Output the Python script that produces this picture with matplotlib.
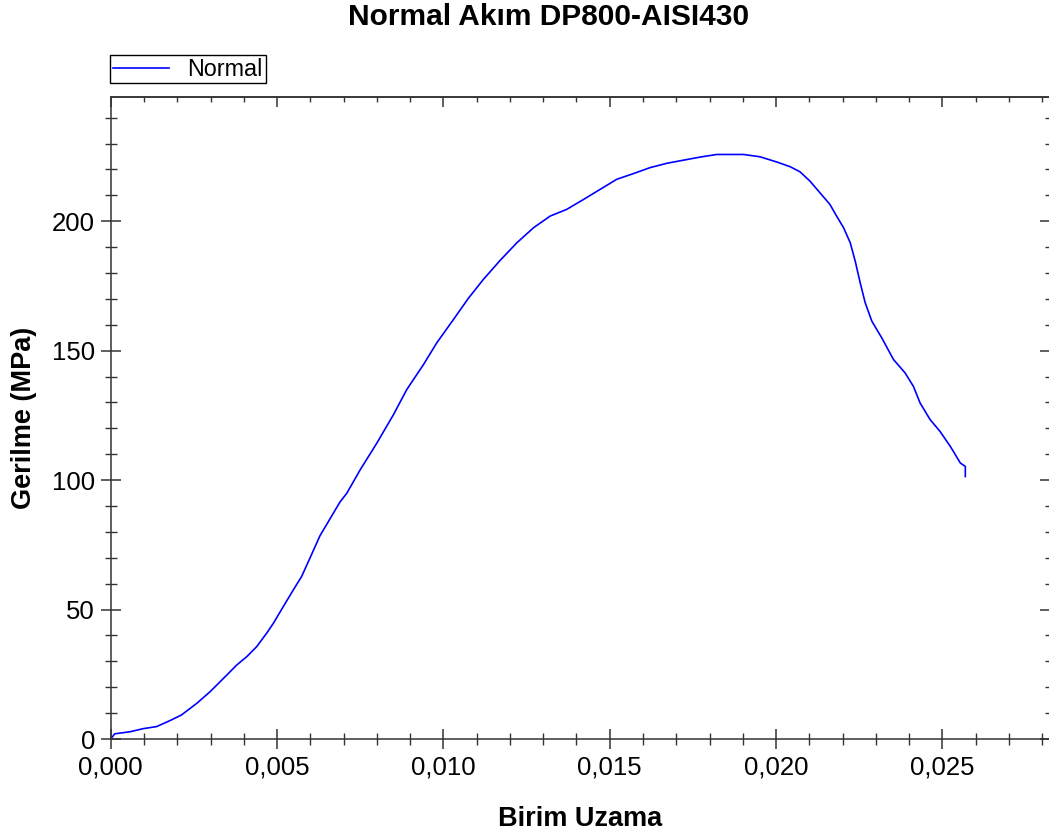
import numpy as np
import matplotlib.pyplot as plt
from matplotlib.ticker import MultipleLocator, FuncFormatter

# === Data ===
strain = [0.0, 0.00012, 0.00058, 0.00098, 0.00138, 0.00178, 0.00213, 0.00259,
          0.00299, 0.00349, 0.00379, 0.00409, 0.00439, 0.00469, 0.00489, 0.00519,
          0.00549, 0.00574, 0.00599, 0.00629, 0.00659, 0.00689, 0.00710, 0.00750,
          0.00800, 0.00850, 0.00890, 0.00940, 0.00980, 0.01030, 0.01075, 0.01120,
          0.01170, 0.01221, 0.01271, 0.01321, 0.01371, 0.01421, 0.01471, 0.01521,
          0.01571, 0.01621, 0.01672, 0.01722, 0.01772, 0.01822, 0.01902, 0.01952,
          0.02002, 0.02042, 0.02072, 0.02102, 0.02132, 0.02162, 0.02182, 0.02203,
          0.02223, 0.02238, 0.02253, 0.02268, 0.02288, 0.02318, 0.02353, 0.02388,
          0.02413, 0.02433, 0.02463, 0.02493, 0.02524, 0.02554, 0.02569, 0.02569]
stress = [0.0, 2.0, 2.8, 4.0, 4.8, 7.1, 9.3, 13.8,
          18.3, 24.7, 28.6, 31.8, 35.7, 40.9, 44.7, 51.2,
          57.6, 62.8, 69.9, 78.5, 85.0, 91.5, 95.0, 104.0,
          114.3, 125.3, 135.0, 144.6, 153.0, 162.0, 170.2, 177.5,
          184.8, 191.7, 197.5, 202.0, 204.6, 208.4, 212.3, 216.2,
          218.4, 220.7, 222.4, 223.6, 224.8, 225.8, 225.8, 224.9,
          222.9, 221.1, 219.1, 215.5, 211.0, 206.5, 202.0, 197.5,
          191.7, 184.6, 176.2, 168.5, 161.4, 154.9, 146.6, 141.4,
          136.2, 129.8, 123.4, 118.8, 113.0, 106.6, 105.3, 101.4]

title = "Normal Akım DP800-AISI430"
series_name = "Normal"
x_label = "Birim Uzama"
y_label = "Gerilme (MPa)"

plt.rcParams['font.family'] = ['Liberation Sans', 'DejaVu Sans']
spine_col = '#333333'

# === Figure ===
fig = plt.figure(figsize=(10.49, 8.38), dpi=100)
ax = fig.add_axes([110.7 / 1049, 99 / 838, (1049.5 - 110.7) / 1049, 642 / 838])

ax.plot(strain, stress, color='#0000ff', lw=1.2, label=series_name)

ax.set_xlim(0, 0.02822)
ax.set_ylim(0, 248)

ax.xaxis.set_major_locator(MultipleLocator(0.005))
ax.xaxis.set_minor_locator(MultipleLocator(0.001))
ax.yaxis.set_major_locator(MultipleLocator(50))
ax.yaxis.set_minor_locator(MultipleLocator(10))
ax.xaxis.set_major_formatter(FuncFormatter(lambda v, _: f"{v:.3f}".replace('.', ',')))
ax.yaxis.set_major_formatter(FuncFormatter(lambda v, _: f"{v:.0f}"))

# bottom / left ticks cross the axis
ax.tick_params(which='major', direction='inout', length=14.4, width=1.1,
               color=spine_col, labelsize=18.5, pad=4)
ax.tick_params(which='minor', direction='inout', length=8, width=1.0, color=spine_col)
ax.tick_params(axis='x', which='major', pad=5)

for s in ax.spines.values():
    s.set_color(spine_col)
    s.set_linewidth(1.1)

# top / right ticks point inward only
top = ax.secondary_xaxis('top')
top.xaxis.set_major_locator(MultipleLocator(0.005))
top.xaxis.set_minor_locator(MultipleLocator(0.001))
top.tick_params(which='major', direction='in', length=7.2, width=1.1, color=spine_col,
                labeltop=False)
top.tick_params(which='minor', direction='in', length=3.6, width=1.0, color=spine_col)
top.spines['top'].set_color(spine_col)
top.spines['top'].set_linewidth(1.1)

right = ax.secondary_yaxis('right')
right.yaxis.set_major_locator(MultipleLocator(50))
right.yaxis.set_minor_locator(MultipleLocator(10))
right.tick_params(which='major', direction='in', length=7.2, width=1.1, color=spine_col,
                  labelright=False)
right.tick_params(which='minor', direction='in', length=3.6, width=1.0, color=spine_col)
right.spines['right'].set_color(spine_col)

ax.set_xlabel(x_label, fontsize=19.5, fontweight='bold')
ax.set_ylabel(y_label, fontsize=19.5, fontweight='bold')
ax.xaxis.set_label_coords(0.5, -0.104)
ax.yaxis.set_label_coords(-0.079, 0.5)

fig.text(548.5 / 1049, 1 - 17 / 838, title, ha='center', va='center',
         fontsize=21.5, fontweight='bold')

leg = ax.legend(loc='lower left', bbox_to_anchor=(110 / 1049, 1 - 83.5 / 838),
                bbox_transform=fig.transFigure, borderaxespad=0, fontsize=16.8,
                fancybox=False, edgecolor='black', framealpha=1,
                handlelength=2.4, handletextpad=0.8, borderpad=0.12)
leg.get_frame().set_linewidth(1.0)

fig.savefig('out.png', dpi=100)
